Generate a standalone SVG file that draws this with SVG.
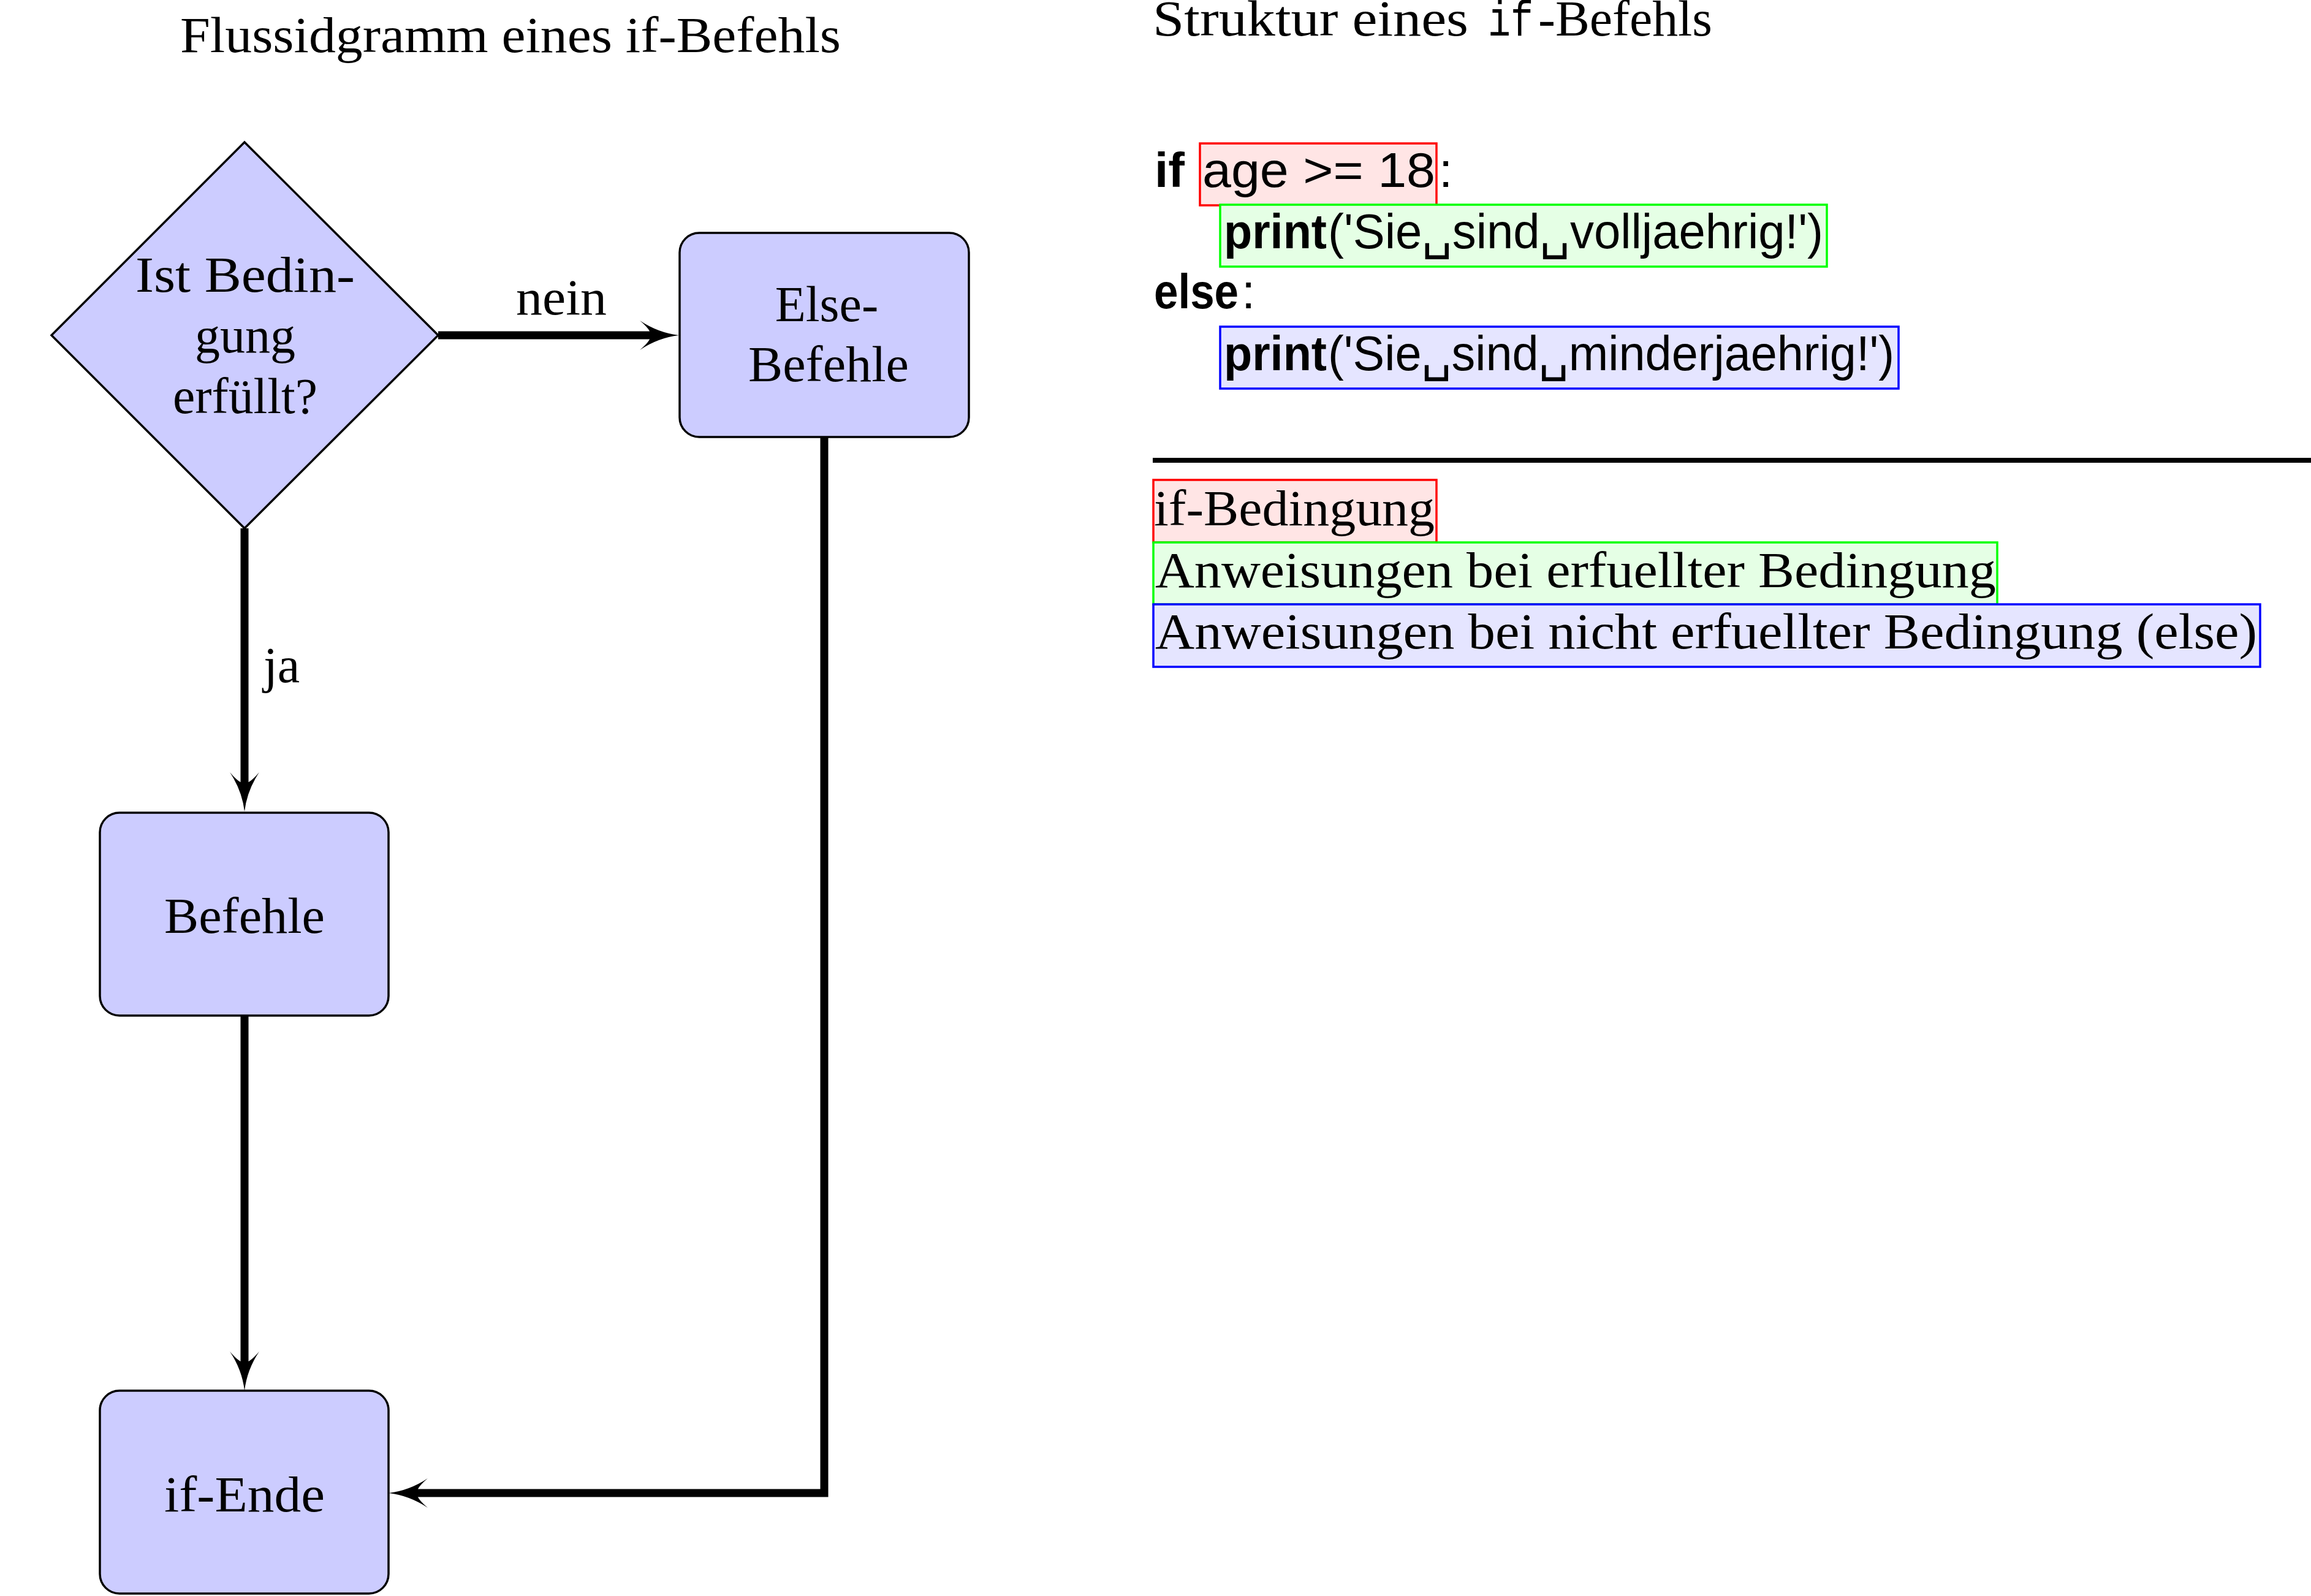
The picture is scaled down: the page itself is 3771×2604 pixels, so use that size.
<svg xmlns="http://www.w3.org/2000/svg" width="3771" height="2604" viewBox="0 0 3771 2604">
<style>
.serif{font-family:"Liberation Serif","DejaVu Serif",serif;font-size:82px;fill:#000}
.sans{font-family:"Liberation Sans","DejaVu Sans",sans-serif;font-size:80px;fill:#000}
.mono{font-family:"Liberation Mono","DejaVu Sans Mono",monospace}
.node{fill:#ccccff;stroke:#000;stroke-width:3.5}
.conn{fill:none;stroke:#000;stroke-width:13;stroke-linejoin:miter}
.b{font-weight:bold}
</style>
<defs>
<marker id="arr" viewBox="0 -26 66 52" markerWidth="66" markerHeight="52" refX="20" refY="0" orient="auto" markerUnits="userSpaceOnUse">
<path d="M64,0 Q30,4 0,24 Q18,9 18,0 Q18,-9 0,-24 Q30,-4 64,0 Z" fill="#000"/>
</marker>
</defs>
<rect width="3771" height="2604" fill="#fff"/>
<text class="serif" x="833" y="85" text-anchor="middle" textLength="1078" lengthAdjust="spacingAndGlyphs">Flussidgramm eines if-Befehls</text>
<g id="connectors">
<path class="conn" d="M715,547 H1064" marker-end="url(#arr)"/>
<path class="conn" d="M399,862 V1280" marker-end="url(#arr)"/>
<path class="conn" d="M399,1657 V2225" marker-end="url(#arr)"/>
<path class="conn" d="M1345,713 V2436 H678" marker-end="url(#arr)"/>
<text class="serif" x="842" y="513" textLength="148" lengthAdjust="spacingAndGlyphs">nein</text>
<text class="serif" x="430" y="1113">ja</text>
</g>
<g id="cond">
<polygon class="node" points="399,232 715,547 399,862 84,547"/>
<text class="serif" x="400" y="476" text-anchor="middle" textLength="358" lengthAdjust="spacingAndGlyphs">Ist Bedin-</text>
<text class="serif" x="400" y="575" text-anchor="middle">gung</text>
<text class="serif" x="400" y="674" text-anchor="middle" textLength="236" lengthAdjust="spacingAndGlyphs">erfüllt?</text>
</g>
<g id="else">
<rect class="node" x="1109" y="380" width="472" height="333" rx="32"/>
<text class="serif" x="1349" y="524" text-anchor="middle">Else-</text>
<text class="serif" x="1352" y="622" text-anchor="middle" textLength="262" lengthAdjust="spacingAndGlyphs">Befehle</text>
</g>
<g id="befehle">
<rect class="node" x="163" y="1326" width="471" height="331" rx="32"/>
<text class="serif" x="399" y="1522" text-anchor="middle" textLength="262" lengthAdjust="spacingAndGlyphs">Befehle</text>
</g>
<g id="ifende">
<rect class="node" x="163" y="2269" width="471" height="331" rx="32"/>
<text class="serif" x="399" y="2466" text-anchor="middle" textLength="262" lengthAdjust="spacingAndGlyphs">if-Ende</text>
</g>
<g id="structure">
<text class="serif" x="1881" y="58"><tspan textLength="515" lengthAdjust="spacingAndGlyphs">Struktur eines</tspan><tspan class="mono" x="2428" textLength="74" lengthAdjust="spacingAndGlyphs">if</tspan><tspan x="2510" textLength="284" lengthAdjust="spacingAndGlyphs">-Befehls</tspan></text>
<rect x="1958" y="234" width="386" height="101" fill="#ffe5e5" stroke="#ff0000" stroke-width="3.5"/>
<rect x="1991" y="334" width="990" height="101" fill="#e5ffe5" stroke="#00ff00" stroke-width="3.5"/>
<rect x="1991" y="533" width="1107" height="101" fill="#e5e5ff" stroke="#0000ff" stroke-width="3.5"/>
<text class="sans" x="1884" y="305"><tspan class="b">if</tspan> <tspan x="1962" textLength="380" lengthAdjust="spacingAndGlyphs">age &gt;= 18</tspan><tspan x="2348">:</tspan></text>
<text class="sans" x="1997" y="405"><tspan class="b" textLength="168" lengthAdjust="spacingAndGlyphs">print</tspan><tspan x="2167" textLength="808" lengthAdjust="spacingAndGlyphs">('Sie␣sind␣volljaehrig!')</tspan></text>
<text class="sans" x="1883" y="503"><tspan class="b" textLength="138" lengthAdjust="spacingAndGlyphs">else</tspan><tspan x="2026">:</tspan></text>
<text class="sans" x="1997" y="604"><tspan class="b" textLength="168" lengthAdjust="spacingAndGlyphs">print</tspan><tspan x="2167" textLength="924" lengthAdjust="spacingAndGlyphs">('Sie␣sind␣minderjaehrig!')</tspan></text>
<line x1="1881" y1="751" x2="3771" y2="751" stroke="#000" stroke-width="8"/>
</g>
<g id="legend">
<rect x="1882" y="783" width="462" height="102" fill="#ffe5e5" stroke="#ff0000" stroke-width="3.5"/>
<rect x="1882" y="885" width="1377" height="101" fill="#e5ffe5" stroke="#00ff00" stroke-width="3.5"/>
<rect x="1882" y="986" width="1806" height="102" fill="#e5e5ff" stroke="#0000ff" stroke-width="3.5"/>
<text class="serif" x="1883" y="857" textLength="458" lengthAdjust="spacingAndGlyphs">if-Bedingung</text>
<text class="serif" x="1885" y="958" textLength="1372" lengthAdjust="spacingAndGlyphs">Anweisungen bei erfuellter Bedingung</text>
<text class="serif" x="1885" y="1058" textLength="1798" lengthAdjust="spacingAndGlyphs">Anweisungen bei nicht erfuellter Bedingung (else)</text>
</g>
</svg>
